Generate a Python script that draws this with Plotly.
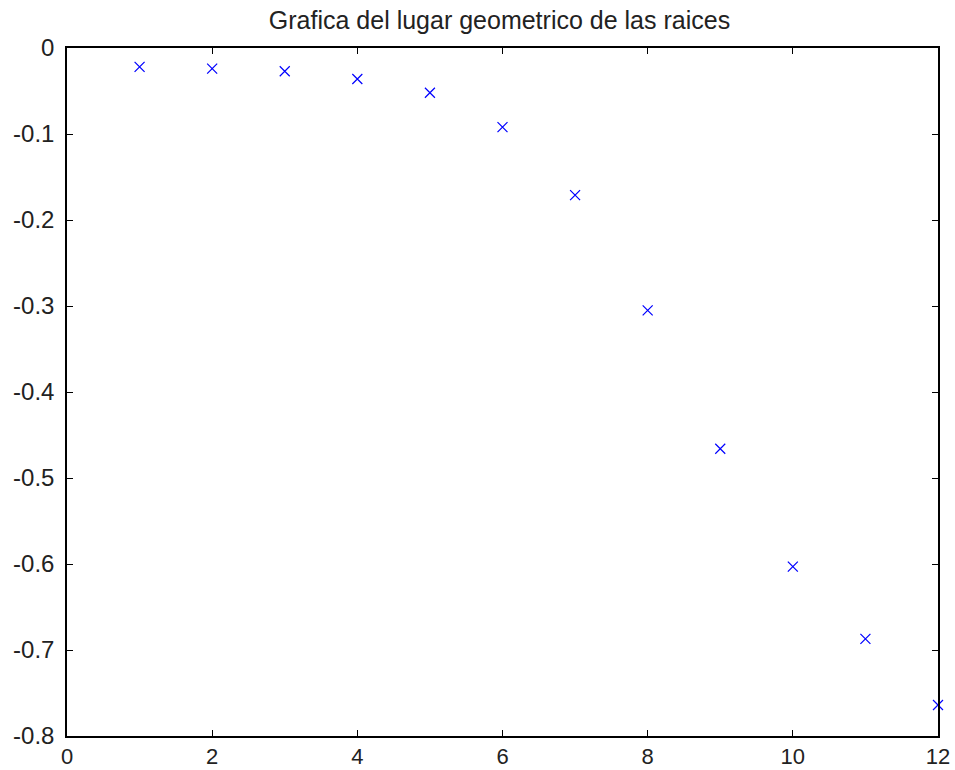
import plotly.graph_objects as go

k_values = [1, 2, 3, 4, 5, 6, 7, 8, 9, 10, 11, 12]
root_values = [-0.022, -0.024, -0.027, -0.036, -0.052, -0.092, -0.171, -0.305,
               -0.466, -0.603, -0.687, -0.764]
x_ticks = [0, 2, 4, 6, 8, 10, 12]
y_ticks = [0, -0.1, -0.2, -0.3, -0.4, -0.5, -0.6, -0.7, -0.8]
y_tick_labels = ["0", "-0.1", "-0.2", "-0.3", "-0.4", "-0.5", "-0.6", "-0.7", "-0.8"]
title_text = "Grafica del lugar geometrico de las raices"

FONT = "Liberation Sans, Arial, sans-serif"

fig = go.Figure()
fig.add_trace(go.Scatter(
    x=k_values, y=root_values, mode="markers",
    marker=dict(symbol="x-thin", size=10, line=dict(color="#0000ff", width=1.2), color="#0000ff"),
    cliponaxis=False, showlegend=False,
))

axis_common = dict(
    showgrid=False, zeroline=False, showline=True, linecolor="black", linewidth=1.5,
    mirror="ticks", ticks="inside", ticklen=6, tickwidth=1.3, tickcolor="black",
    automargin=False,
)
fig.update_xaxes(range=[0, 12], tickvals=x_ticks, ticktext=[str(v) for v in x_ticks],
                 ticklabelstandoff=0, tickfont=dict(family=FONT, size=22, color="#222"),
                 **axis_common)
fig.update_yaxes(range=[-0.8, 0], tickvals=y_ticks, ticktext=y_tick_labels,
                 ticklabelstandoff=6, tickfont=dict(family=FONT, size=24, color="#222"),
                 **axis_common)

fig.update_layout(
    width=955, height=770,
    margin=dict(l=67, r=17, t=48, b=34),
    paper_bgcolor="white", plot_bgcolor="white",
    title=dict(text=title_text, x=0.523, xanchor="center", y=0.974, yanchor="middle",
               font=dict(family=FONT, size=25, color="#222")),
)
fig.write_html("out.html")
